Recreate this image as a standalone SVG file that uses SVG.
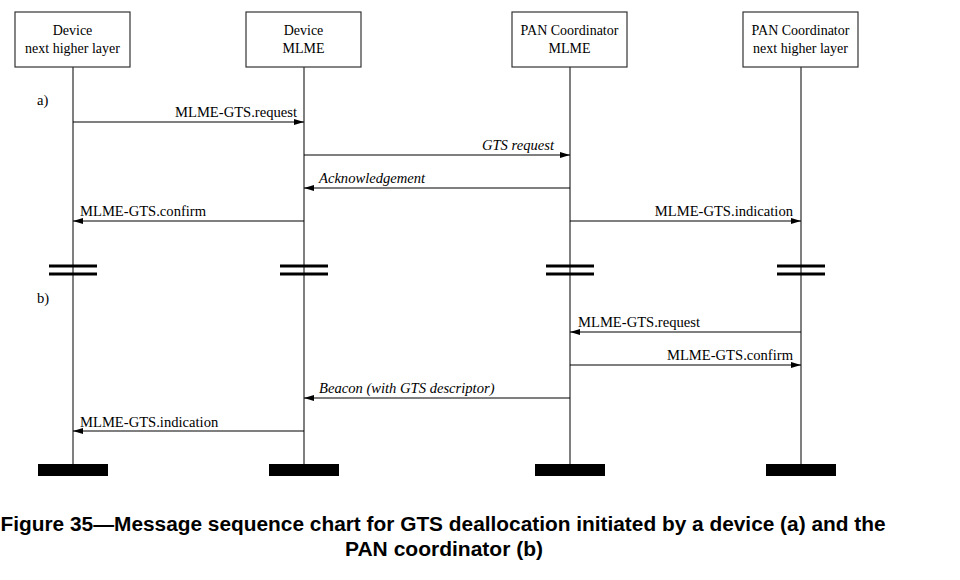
<svg xmlns="http://www.w3.org/2000/svg" width="960" height="580" viewBox="0 0 960 580">
<style>
.box{fill:#fff;stroke:#333;stroke-width:1.2}
.bt{font-family:"Liberation Serif","Times New Roman",serif;font-size:14px;fill:#000;text-anchor:middle}
.life{stroke:#555;stroke-width:1.5}
.msg{stroke:#000;stroke-width:1.1;fill:none}
.lbl{font-family:"Liberation Serif","Times New Roman",serif;font-size:14.6px;fill:#000}
.it{font-style:italic}
.brk{stroke:#000;stroke-width:3}
.end{fill:#000}
.title{font-family:"Liberation Sans",Arial,sans-serif;font-weight:bold;font-size:20px;fill:#000;text-anchor:middle}
</style>
<defs>
<marker id="ah" viewBox="0 0 10 6" refX="10" refY="3" markerWidth="10" markerHeight="6" markerUnits="userSpaceOnUse" orient="auto">
<path d="M0,0 L10,3 L0,6 Z" fill="#000"/>
</marker>
</defs>
<rect width="960" height="580" fill="#fff"/>
<g id="lifelines">
<line class="life" x1="73" y1="67" x2="73" y2="464"/>
<line class="life" x1="304" y1="67" x2="304" y2="464"/>
<line class="life" x1="570" y1="67" x2="570" y2="464"/>
<line class="life" x1="801" y1="67" x2="801" y2="464"/>
</g>
<g id="node-dev-nhl">
<rect class="box" x="15" y="12" width="115" height="55"/>
<text class="bt" x="72.5" y="35">Device</text>
<text class="bt" x="72.5" y="53">next higher layer</text>
</g>
<g id="node-dev-mlme">
<rect class="box" x="246" y="12" width="115" height="55"/>
<text class="bt" x="303.5" y="35">Device</text>
<text class="bt" x="303.5" y="53">MLME</text>
</g>
<g id="node-pan-mlme">
<rect class="box" x="512" y="12" width="115" height="55"/>
<text class="bt" x="569.5" y="35">PAN Coordinator</text>
<text class="bt" x="569.5" y="53">MLME</text>
</g>
<g id="node-pan-nhl">
<rect class="box" x="743" y="12" width="115" height="55"/>
<text class="bt" x="800.5" y="35">PAN Coordinator</text>
<text class="bt" x="800.5" y="53">next higher layer</text>
</g>
<g id="breaks">
<line class="brk" x1="49" y1="266" x2="97" y2="266"/><line class="brk" x1="49" y1="274" x2="97" y2="274"/>
<line class="brk" x1="280" y1="266" x2="328" y2="266"/><line class="brk" x1="280" y1="274" x2="328" y2="274"/>
<line class="brk" x1="546" y1="266" x2="594" y2="266"/><line class="brk" x1="546" y1="274" x2="594" y2="274"/>
<line class="brk" x1="777" y1="266" x2="825" y2="266"/><line class="brk" x1="777" y1="274" x2="825" y2="274"/>
</g>
<g id="ends">
<rect class="end" x="38" y="464" width="70" height="12"/>
<rect class="end" x="269" y="464" width="70" height="12"/>
<rect class="end" x="535" y="464" width="70" height="12"/>
<rect class="end" x="766" y="464" width="70" height="12"/>
</g>
<g id="connectors">
<line class="msg" x1="73" y1="122" x2="304" y2="122" marker-end="url(#ah)"/>
<line class="msg" x1="304" y1="155" x2="570" y2="155" marker-end="url(#ah)"/>
<line class="msg" x1="570" y1="188" x2="304" y2="188" marker-end="url(#ah)"/>
<line class="msg" x1="304" y1="221" x2="73" y2="221" marker-end="url(#ah)"/>
<line class="msg" x1="570" y1="221" x2="801" y2="221" marker-end="url(#ah)"/>
<line class="msg" x1="801" y1="332" x2="570" y2="332" marker-end="url(#ah)"/>
<line class="msg" x1="570" y1="365" x2="801" y2="365" marker-end="url(#ah)"/>
<line class="msg" x1="570" y1="398" x2="304" y2="398" marker-end="url(#ah)"/>
<line class="msg" x1="304" y1="431" x2="73" y2="431" marker-end="url(#ah)"/>
</g>
<g id="labels">
<text class="lbl" x="37" y="105">a)</text>
<text class="lbl" x="37" y="303">b)</text>
<text class="lbl" x="297" y="117" text-anchor="end">MLME-GTS.request</text>
<text class="lbl it" x="554" y="150" text-anchor="end">GTS request</text>
<text class="lbl it" x="319" y="183">Acknowledgement</text>
<text class="lbl" x="80" y="216">MLME-GTS.confirm</text>
<text class="lbl" x="793" y="216" text-anchor="end">MLME-GTS.indication</text>
<text class="lbl" x="578" y="327">MLME-GTS.request</text>
<text class="lbl" x="793" y="360" text-anchor="end">MLME-GTS.confirm</text>
<text class="lbl it" x="319" y="393">Beacon (with GTS descriptor)</text>
<text class="lbl" x="80" y="427">MLME-GTS.indication</text>
</g>
<g id="caption">
<text class="title" x="443" y="531" textLength="885" lengthAdjust="spacingAndGlyphs">Figure 35—Message sequence chart for GTS deallocation initiated by a device (a) and the</text>
<text class="title" x="444" y="556" textLength="198" lengthAdjust="spacingAndGlyphs">PAN coordinator (b)</text>
</g>
</svg>
